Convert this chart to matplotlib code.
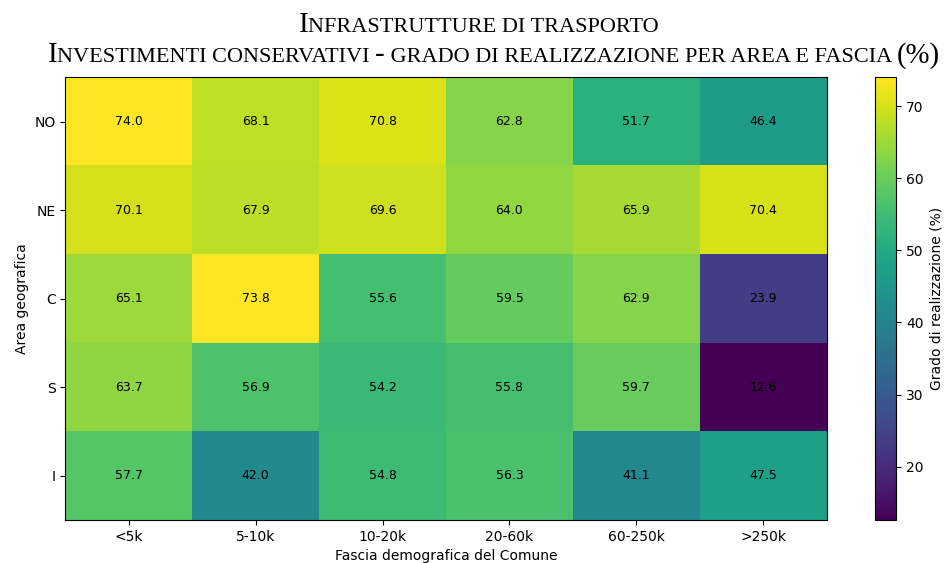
import numpy as np
import matplotlib
matplotlib.use("Agg")
import matplotlib.pyplot as plt

# dati
aree = ["NO", "NE", "C", "S", "I"]
fasce = ["<5k", "5-10k", "10-20k", "20-60k", "60-250k", ">250k"]
valori = np.array([
    [74.0, 68.1, 70.8, 62.8, 51.7, 46.4],
    [70.1, 67.9, 69.6, 64.0, 65.9, 70.4],
    [65.1, 73.8, 55.6, 59.5, 62.9, 23.9],
    [63.7, 56.9, 54.2, 55.8, 59.7, 12.6],
    [57.7, 42.0, 54.8, 56.3, 41.1, 47.5],
])
titolo = ["Infrastrutture di trasporto",
          "Investimenti conservativi - grado di realizzazione per area e fascia (%)"]

W, H = 944, 563
fig = plt.figure(figsize=(W / 100, H / 100), dpi=100)
ax = fig.add_axes([65.3 / W, 1 - 520 / H, 761.4 / W, 442.7 / H])
cax = fig.add_axes([874.7 / W, 1 - 520 / H, 21.6 / W, 442.7 / H])

im = ax.imshow(valori, cmap="viridis", aspect="auto",
               vmin=valori.min(), vmax=valori.max())
for i in range(len(aree)):
    for j in range(len(fasce)):
        ax.text(j, i, f"{valori[i, j]:.1f}", ha="center", va="center",
                fontsize=9, color="black")

ax.set_xticks(range(len(fasce)))
ax.set_xticklabels(fasce)
ax.set_yticks(range(len(aree)))
ax.set_yticklabels(aree)
ax.set_xlabel("Fascia demografica del Comune")
ax.set_ylabel("Area geografica")

cb = fig.colorbar(im, cax=cax)
cb.set_label("Grado di realizzazione (%)")

# titolo in maiuscoletto (small caps) costruito a pezzi
SERIF = "Liberation Serif"
BIG, SMALL = 20.7, 16.0
rend = fig.canvas.get_renderer()


def larghezza(s, size):
    t1 = fig.text(0, 0, "|" + s + "|", fontsize=size, family=SERIF)
    t2 = fig.text(0, 0, "||", fontsize=size, family=SERIF)
    w = t1.get_window_extent(rend).width - t2.get_window_extent(rend).width
    t1.remove()
    t2.remove()
    return w


def maiuscoletto(riga, y_pix, x_centro):
    pezzi = []
    for ch in riga:
        grande = not (ch.islower() or ch == " ")
        if pezzi and pezzi[-1][1] == grande:
            pezzi[-1][0] += ch
        else:
            pezzi.append([ch, grande])
    larg = [larghezza(p.upper(), BIG if g else SMALL) for p, g in pezzi]
    x = x_centro - sum(larg) / 2
    for (p, g), w in zip(pezzi, larg):
        fig.text(x / W, 1 - y_pix / H, p.upper(), fontsize=BIG if g else SMALL,
                 family=SERIF, va="baseline", ha="left")
        x += w


maiuscoletto(titolo[0], 31.7, 478.7)
maiuscoletto(titolo[1], 62.3, 493.6)

fig.savefig("out.png", dpi=100)
